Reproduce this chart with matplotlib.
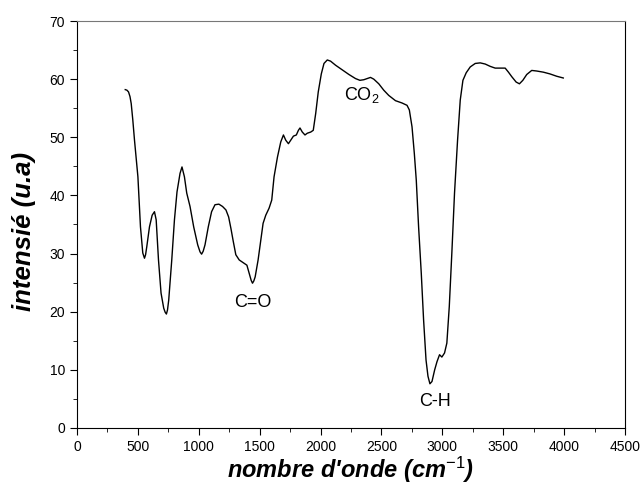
#!/usr/bin/env python3
"""
FTIR spectrum: intensity vs wavenumber, with band labels.
"""
import numpy as np
import matplotlib.pyplot as plt
from matplotlib.ticker import MultipleLocator

# wavenumber (cm-1) and intensity (u.a)
wavenumber = [396, 410, 423, 435, 445, 458, 472, 500, 521, 540, 554, 563, 573, 595, 617, 636, 650, 669,
              690, 712, 724, 734, 743, 753, 778, 800, 821, 846, 862, 882, 901, 928, 958, 991,
              1010, 1023, 1036, 1051, 1078, 1105, 1133, 1165, 1195, 1223, 1245, 1264, 1283, 1304,
              1332, 1373, 1395, 1414, 1430, 1441, 1452, 1463, 1487, 1509, 1528, 1550, 1577, 1599,
              1618, 1646, 1673, 1695, 1714, 1736, 1755, 1777, 1801, 1818, 1831, 1850,
              1872, 1891, 1919, 1940, 1960, 1981, 2006, 2028, 2055, 2082, 2123, 2178,
              2233, 2287, 2323, 2355, 2410, 2437, 2478, 2519, 2560, 2615, 2669, 2710,
              2729, 2751, 2770, 2786, 2805, 2827, 2846, 2866, 2882, 2898, 2915, 2937,
              2956, 2977, 2996, 3018, 3037, 3057, 3078, 3100, 3125, 3147, 3169, 3196,
              3229, 3270, 3311, 3352, 3393, 3434, 3475, 3516, 3543, 3571, 3606, 3633,
              3661, 3693, 3734, 3775, 3830, 3884, 3939, 3993]
intensity = [58.2, 58.1, 57.8, 57.0, 55.8, 53.0, 49.5, 43.2, 34.6, 30.1, 29.2, 29.8, 31.2, 34.6, 36.6, 37.2, 35.8, 28.9,
             23.2, 20.6, 19.9, 19.6, 20.3, 22.0, 28.9, 35.8, 40.6, 43.8, 44.9, 43.2, 40.4, 38.1, 34.6, 31.5,
             30.3, 29.9, 30.4, 31.5, 34.6, 37.2, 38.4, 38.5, 38.1, 37.5, 36.3, 34.3, 32.1, 29.8,
             28.9, 28.3, 28.0, 26.6, 25.4, 24.9, 25.3, 26.0, 28.9, 32.3, 35.2, 36.6, 37.8, 39.2,
             43.2, 46.6, 49.2, 50.4, 49.5, 48.9, 49.5, 50.2, 50.4, 51.2, 51.6, 50.9,
             50.4, 50.7, 50.9, 51.2, 54.1, 57.8, 60.9, 62.7, 63.3, 63.1, 62.4, 61.6,
             60.8, 60.1, 59.8, 59.9, 60.3, 60.0, 59.2, 58.1, 57.2, 56.3, 55.9, 55.5,
             54.7, 51.8, 47.2, 42.6, 34.6, 26.6, 18.6, 11.7, 8.9, 7.6, 8.0, 10.0,
             11.4, 12.6, 12.2, 12.9, 14.6, 20.9, 30.1, 40.4, 49.5, 56.4, 59.8, 61.1,
             62.1, 62.7, 62.8, 62.6, 62.2, 61.9, 61.9, 61.9, 61.2, 60.4, 59.5, 59.2,
             59.8, 60.8, 61.5, 61.4, 61.2, 60.9, 60.5, 60.2]

band_labels = ['C=O', r'CO$_2$', 'C-H']
band_x = [1441, 2337, 2940]
band_y = [21.6, 57.3, 4.5]

plt.rcParams['font.family'] = ['Liberation Sans', 'DejaVu Sans']
plt.rcParams['mathtext.fontset'] = 'custom'
plt.rcParams['mathtext.rm'] = 'Liberation Sans'
plt.rcParams['mathtext.it'] = 'Liberation Sans:italic:bold'
plt.rcParams['mathtext.bf'] = 'Liberation Sans:bold'

fig = plt.figure(figsize=(6.44, 4.98), dpi=100)
ax = fig.add_axes([0.1196, 0.1406, 0.8509, 0.8172])

ax.plot(wavenumber, intensity, color='black', linewidth=1.0)

for lab, bx, by in zip(band_labels, band_x, band_y):
    ax.text(bx, by, lab, ha='center', va='center', fontsize=13)

ax.set_xlim(0, 4500)
ax.set_ylim(0, 70)
ax.xaxis.set_major_locator(MultipleLocator(500))
ax.xaxis.set_minor_locator(MultipleLocator(250))
ax.yaxis.set_major_locator(MultipleLocator(10))
ax.yaxis.set_minor_locator(MultipleLocator(5))
ax.tick_params(which='both', direction='out', top=False, right=False, labelsize=10)
ax.tick_params(which='major', length=5)
ax.tick_params(which='minor', length=3)
ax.spines['top'].set_color('#777777')

ax.set_xlabel(r"nombre d'onde (cm$^{\mathit{-1}}$)", fontsize=17, fontweight='bold',
              style='italic', va='center')
ax.set_ylabel('intensié (u.a)', fontsize=18.5, fontweight='bold', style='italic', va='center')
ax.xaxis.set_label_coords(0.5, -0.104)
ax.yaxis.set_label_coords(-0.097, 0.484)

plt.savefig('out.png', dpi=100)
